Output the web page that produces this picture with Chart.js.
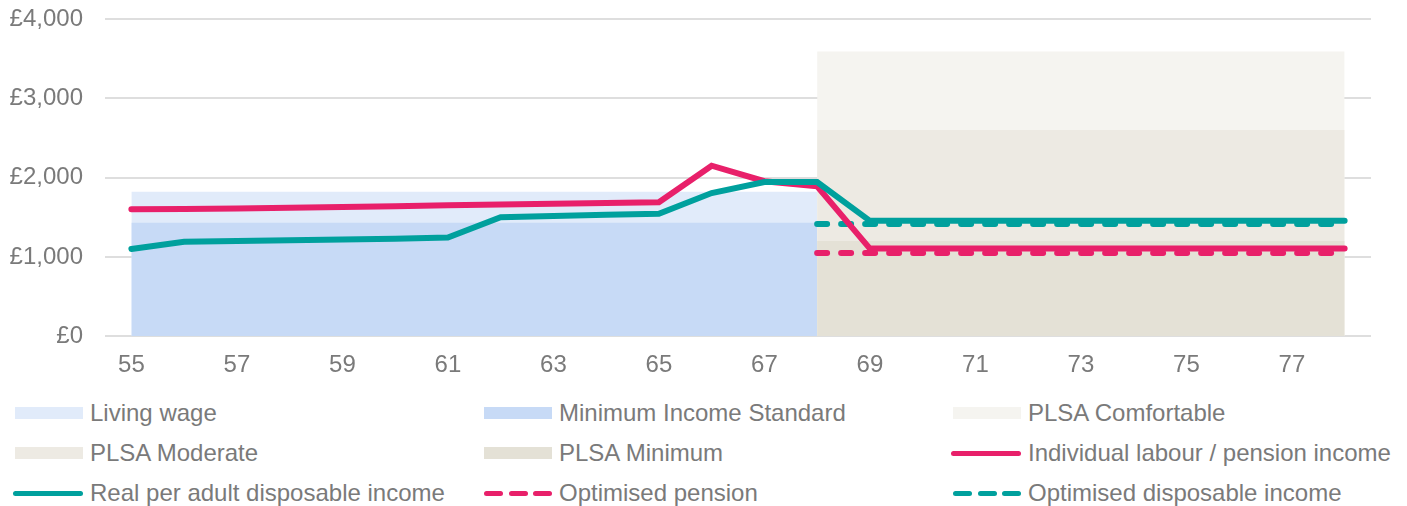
<!DOCTYPE html>
<html>
<head>
<meta charset="utf-8">
<script src="https://cdn.jsdelivr.net/npm/chart.js@4.4.1/dist/chart.umd.min.js"></script>
<style>
    body { margin: 0; background: #fff; font-family: "Liberation Sans", Arial, sans-serif; }
    .chartBox { position: relative; width: 1407px; height: 393px; }
    .legend { display: grid; grid-template-columns: repeat(3, 469px); grid-auto-rows: 40px; width: 1407px; }
    .legendItem { display: flex; align-items: center; padding-left: 15px; color: #7a7a7a; font-size: 24px; white-space: nowrap; }
    .swatch { width: 68px; margin-right: 7px; display: flex; align-items: center; justify-content: space-between; }
    .swatch .box { width: 68px; height: 12px; }
    .swatch .line { width: 72px; height: 5px; border-radius: 3px; margin-left: -2px; }
    .swatch .dash { width: 19px; height: 5px; border-radius: 3px; }
</style>
</head>
<body>
<div class="chartBox"><canvas id="income"></canvas></div>
<div class="legend" id="legend"></div>

<script>
// Ages on the x axis
const ages = [55, 56, 57, 58, 59, 60, 61, 62, 63, 64, 65, 66, 67, 68, 69, 70, 71, 72, 73, 74, 75, 76, 77, 78];

// Benchmarks (monthly, £)
const livingWage = [1820, 1820, 1820, 1820, 1820, 1820, 1820, 1820, 1820, 1820, 1820, 1820, 1820, 1820, null, null, null, null, null, null, null, null, null, null];
const minIncomeStandard = [1430, 1430, 1430, 1430, 1430, 1430, 1430, 1430, 1430, 1430, 1430, 1430, 1430, 1430, null, null, null, null, null, null, null, null, null, null];
const plsaComfortable = [null, null, null, null, null, null, null, null, null, null, null, null, null, 3590, 3590, 3590, 3590, 3590, 3590, 3590, 3590, 3590, 3590, 3590];
const plsaModerate = [null, null, null, null, null, null, null, null, null, null, null, null, null, 2600, 2600, 2600, 2600, 2600, 2600, 2600, 2600, 2600, 2600, 2600];
const plsaMinimum = [null, null, null, null, null, null, null, null, null, null, null, null, null, 1200, 1200, 1200, 1200, 1200, 1200, 1200, 1200, 1200, 1200, 1200];

// Income series
const individualIncome = [1600, 1605, 1610, 1620, 1630, 1640, 1650, 1660, 1670, 1680, 1690, 2150, 1955, 1890, 1105, 1105, 1105, 1105, 1105, 1105, 1105, 1105, 1105, 1105];
const disposableIncome = [1100, 1190, 1200, 1210, 1220, 1230, 1245, 1500, 1515, 1530, 1545, 1805, 1945, 1945, 1455, 1455, 1455, 1455, 1455, 1455, 1455, 1455, 1455, 1455];
const optimisedPension = [null, null, null, null, null, null, null, null, null, null, null, null, null, 1050, 1050, 1050, 1050, 1050, 1050, 1050, 1050, 1050, 1050, 1050];
const optimisedDisposable = [null, null, null, null, null, null, null, null, null, null, null, null, null, 1415, 1415, 1415, 1415, 1415, 1415, 1415, 1415, 1415, 1415, 1415];

// Y axis
const yMax = 4000;
const yStep = 1000;

const pink = '#e8206a';
const teal = '#00a09d';

const band = (label, data, color, order) => ({
    label: label,
    data: data,
    backgroundColor: color,
    borderColor: 'rgba(0,0,0,0)',
    borderWidth: 0,
    pointRadius: 0,
    fill: 'origin',
    order: order,
    band: true
});

const line = (label, data, color, order, dashed) => ({
    label: label,
    data: data,
    borderColor: color,
    backgroundColor: color,
    borderWidth: 6,
    borderCapStyle: 'round',
    borderJoinStyle: 'miter',
    borderDash: dashed ? [10, 14] : [],
    pointRadius: 0,
    tension: 0,
    fill: false,
    order: order
});

const font = { family: '"Liberation Sans", Arial, sans-serif', size: 24 };

let chart = new Chart(document.getElementById('income'), {
    type: 'line',
    data: {
        labels: ages,
        datasets: [
            band('Living wage', livingWage, '#e1ebfa', 9),
            band('Minimum Income Standard', minIncomeStandard, '#c7daf6', 8),
            band('PLSA Comfortable', plsaComfortable, '#f5f4f0', 7),
            band('PLSA Moderate', plsaModerate, '#edeae3', 6),
            band('PLSA Minimum', plsaMinimum, '#e4e1d6', 5),
            line('Individual labour / pension income', individualIncome, pink, 2, false),
            line('Real per adult disposable income', disposableIncome, teal, 1, false),
            line('Optimised pension', optimisedPension, pink, 4, true),
            line('Optimised disposable income', optimisedDisposable, teal, 3, true)
        ]
    },
    options: {
        responsive: true,
        maintainAspectRatio: false,
        animation: false,
        layout: { padding: { top: 19, right: 36, bottom: 6, left: 0 } },
        plugins: {
            legend: { display: false },
            tooltip: { enabled: false }
        },
        scales: {
            x: {
                type: 'category',
                offset: true,
                grid: { display: false },
                border: { display: false },
                ticks: {
                    autoSkip: false,
                    maxRotation: 0,
                    padding: 7,
                    color: '#7a7a7a',
                    font: font,
                    callback: function (value, index) {
                        return index % 2 === 0 ? this.getLabelForValue(value) : '';
                    }
                }
            },
            y: {
                min: 0,
                max: yMax,
                border: { display: false },
                grid: { color: '#dedede', lineWidth: 2, drawTicks: false },
                afterFit: (scale) => {
                    scale.width = 105;
                    scale.paddingTop = 0;
                    scale.paddingBottom = 0;
                },
                ticks: {
                    stepSize: yStep,
                    padding: 22,
                    color: '#7a7a7a',
                    font: font,
                    callback: (value) => '£' + value.toLocaleString('en-GB')
                }
            }
        }
    }
});

// Legend in three columns, built from the chart's datasets
const legend = document.getElementById('legend');
chart.data.datasets.forEach((ds) => {
    let swatch;
    if (ds.band) {
        swatch = `<div class="box" style="background:${ds.backgroundColor}"></div>`;
    } else if (ds.borderDash.length) {
        swatch = `<div class="dash" style="background:${ds.borderColor}"></div>`.repeat(3);
    } else {
        swatch = `<div class="line" style="background:${ds.borderColor}"></div>`;
    }
    legend.innerHTML += `<div class="legendItem"><div class="swatch">${swatch}</div><span>${ds.label}</span></div>`;
});
</script>
</body>
</html>
